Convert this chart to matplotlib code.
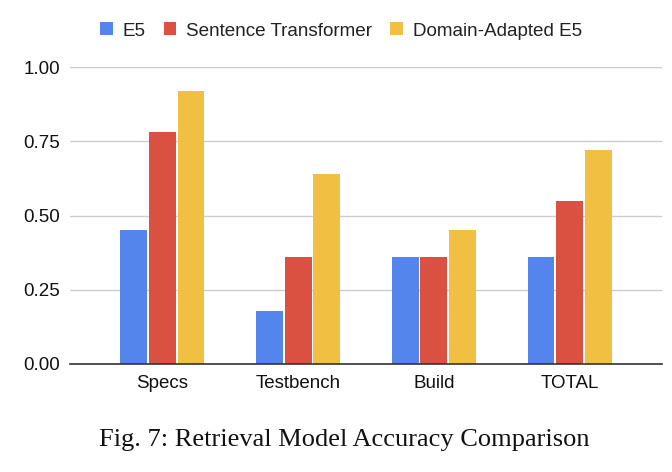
import matplotlib
matplotlib.use("Agg")
import matplotlib.pyplot as plt
import numpy as np

categories = ["Specs", "Testbench", "Build", "TOTAL"]
series_names = ["E5", "Sentence Transformer", "Domain-Adapted E5"]
e5 = [0.45, 0.18, 0.36, 0.36]
sentence_transformer = [0.78, 0.36, 0.36, 0.55]
domain_adapted_e5 = [0.92, 0.64, 0.45, 0.72]
yticks = [0.00, 0.25, 0.50, 0.75, 1.00]
caption = "Fig. 7: Retrieval Model Accuracy Comparison"

colors = ["#5485ec", "#da5141", "#f1bf42"]
series = [e5, sentence_transformer, domain_adapted_e5]

fig = plt.figure(figsize=(6.72, 4.72), dpi=100)
ax = fig.add_axes([70/672, 1-364/472, 592/672, 297/472])

x = np.arange(len(categories))
width = 0.198
step = 0.2125
for i, (vals, name, c) in enumerate(zip(series, series_names, colors)):
    ax.bar(x + (i-1)*step, vals, width=width, color=c, label=name, zorder=3)

ax.set_xlim(-0.678, 3.678)
ax.set_ylim(0, 1.0)
ax.set_yticks(yticks)
ax.set_yticklabels([f"{v:.2f}" for v in yticks])
ax.set_xticks(x)
ax.set_xticklabels(categories)
for s in ["top", "right", "left"]:
    ax.spines[s].set_visible(False)
ax.spines["bottom"].set_color("#333333")
ax.spines["bottom"].set_linewidth(1.2)
ax.spines["bottom"].set_zorder(4)
ax.grid(axis="y", color="#cccccc", linewidth=1, zorder=0)
ax.tick_params(axis="both", length=0, labelsize=13.5, colors="#111111")
ax.tick_params(axis="y", pad=7)
ax.tick_params(axis="x", pad=8)
for lab in ax.get_xticklabels() + ax.get_yticklabels():
    lab.set_fontfamily("Liberation Sans")

leg = fig.legend(loc="center", bbox_to_anchor=(341/672, 1-31/472), ncol=3, frameon=False,
                 handlelength=0.68, handleheight=0.68, handletextpad=0.52, columnspacing=0.95,
                 prop={"family": "Liberation Sans", "size": 13.6})
for t in leg.get_texts():
    t.set_color("#222222")

fig.text(344/672, 1-440/472, caption, ha="center", va="center",
         fontfamily="Liberation Serif", fontsize=19, color="#111111")

fig.savefig("out.png", dpi=100)
